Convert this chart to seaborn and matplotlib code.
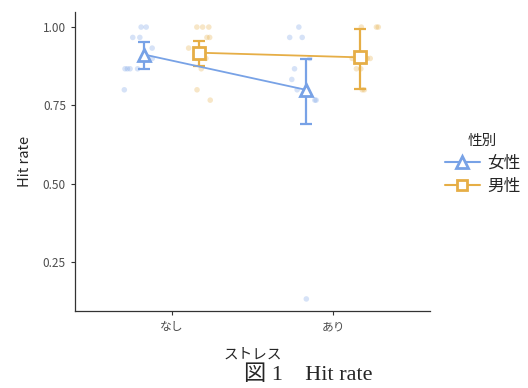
import numpy as np
import pandas as pd
import seaborn as sns
import matplotlib.pyplot as plt
from matplotlib.lines import Line2D

# raw hit rates per participant (30 trials each)
stress_levels = ["なし", "あり"]
sex_levels = ["女性", "男性"]
female_none = [1.0, 1.0, 0.967, 0.967, 0.933, 0.9, 0.867, 0.867, 0.867, 0.867, 0.8]
male_none = [1.0, 1.0, 1.0, 0.967, 0.967, 0.933, 0.9, 0.9, 0.867, 0.8, 0.767]
female_ari = [1.0, 0.967, 0.967, 0.9, 0.867, 0.833, 0.8, 0.767, 0.767, 0.133]
male_ari = [1.0, 1.0, 1.0, 0.9, 0.9, 0.9, 0.867, 0.867, 0.8, 0.8]

# error bar limits (lower, upper) per sex, in stress order
err_low = {"女性": [0.866, 0.691], "男性": [0.876, 0.802]}
err_high = {"女性": [0.953, 0.899], "男性": [0.955, 0.994]}

colors = {"女性": "#78A2E6", "男性": "#E6AE46"}
markers = {"女性": "^", "男性": "s"}

rows = []
for stress, sex, vals in [("なし", "女性", female_none), ("なし", "男性", male_none),
                          ("あり", "女性", female_ari), ("あり", "男性", male_ari)]:
    for v in vals:
        rows.append({"stress": stress, "sex": sex, "hit": v})
df = pd.DataFrame(rows)

sns.set_theme(style="ticks")
plt.rcParams["font.family"] = ["Noto Sans CJK JP", "DejaVu Sans"]

fig = plt.figure(figsize=(5.28, 3.88), dpi=100)
ax = fig.add_axes([0.142, 0.198, 0.672, 0.771])

np.random.seed(3)
sns.stripplot(data=df, x="stress", y="hit", hue="sex", order=stress_levels,
              hue_order=sex_levels, palette=colors, dodge=True, jitter=0.2,
              size=4, alpha=0.3, legend=False, ax=ax, zorder=1)

sns.pointplot(data=df, x="stress", y="hit", hue="sex", order=stress_levels,
              hue_order=sex_levels, palette=colors, dodge=0.34, errorbar=None,
              markers=["^", "s"], linestyles="-", ax=ax, legend=False)

for line, sex in zip(ax.lines[:2], sex_levels):
    line.set_markerfacecolor("white")
    line.set_markeredgecolor(colors[sex])
    line.set_markeredgewidth(2)
    line.set_markersize(9 if sex == "女性" else 8)
    line.set_linewidth(1.3)
    line.set_zorder(4)
    xs = line.get_xdata()
    ys = np.asarray(line.get_ydata())
    lo = ys - np.array(err_low[sex])
    hi = np.array(err_high[sex]) - ys
    ax.errorbar(xs, ys, yerr=[lo, hi], fmt="none", ecolor=colors[sex],
                elinewidth=1.6, capsize=4, capthick=1.6, zorder=3)

ax.set_xlim(-0.6, 1.6)
ax.set_ylim(0.094, 1.048)
ax.set_yticks([0.25, 0.5, 0.75, 1.0])
ax.set_yticklabels(["0.25", "0.50", "0.75", "1.00"])
ax.tick_params(axis="both", labelsize=8.5, colors="#333333", labelcolor="#4D4D4D",
               length=3, width=0.8)
for s in ["top", "right"]:
    ax.spines[s].set_visible(False)
for s in ["left", "bottom"]:
    ax.spines[s].set_color("#333333")
    ax.spines[s].set_linewidth(0.9)

ax.set_xlabel("ストレス", fontsize=10.5, labelpad=10)
ax.set_ylabel("Hit rate", fontsize=10.5, labelpad=8)

handles = [Line2D([], [], color=colors[s], marker=markers[s], markerfacecolor="white",
                  markeredgewidth=2, markersize=8 if s == "女性" else 7, linewidth=1.5)
           for s in sex_levels]
leg = ax.legend(handles, sex_levels, title="性別", loc="center left",
                bbox_to_anchor=(1.0, 0.49), borderaxespad=0.5, frameon=False,
                fontsize=12, title_fontsize=10.5, handlelength=2.1,
                handletextpad=0.45, labelspacing=0.4)
leg._legend_box.align = "center"

fig.text(0.583, 0.008, "図 1　Hit rate", ha="center", va="bottom", fontsize=16,
         family=["Liberation Serif", "Noto Sans CJK JP"])

fig.savefig("out.png", dpi=100)
